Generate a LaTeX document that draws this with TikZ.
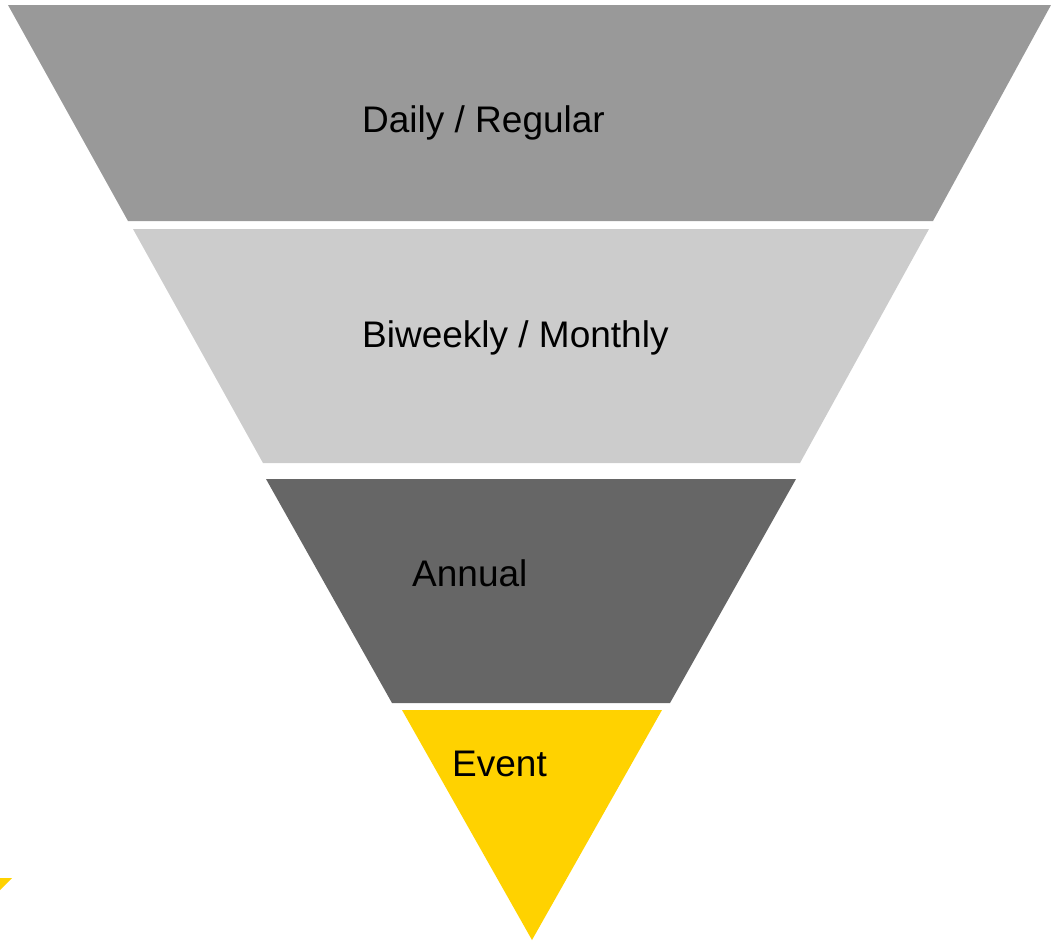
\documentclass[tikz,border=0pt]{standalone}
\usepackage{fontspec}
\setmainfont{Liberation Sans}
\definecolor{bandA}{HTML}{999999}
\definecolor{bandB}{HTML}{CCCCCC}
\definecolor{bandC}{HTML}{666666}
\definecolor{bandD}{HTML}{FFD200}
\begin{document}
\begin{tikzpicture}[x=1pt, y=-1pt, line join=round,
	lbl/.style={anchor=base west, inner sep=0pt, font=\fontsize{37}{44}\selectfont}]
			\useasboundingbox (0,0) rectangle (1051,943);
			% funnel bands
			\fill[bandA] (8,5)--(1051,5)--(933,221)--(128,221)--cycle;
			\fill[bandB] (133,229)--(929,229)--(800,463)--(263,463)--cycle;
			\fill[bandC] (266,479)--(796,479)--(670,703)--(392,703)--cycle;
			\fill[bandD] (402,710)--(662,710)--(532,940)--cycle;
			\fill[bandD] (0,878)--(12,878)--(0,890)--cycle;
			% labels
			\node[lbl] (daily) at (362,132) {Daily / Regular};
			\node[lbl] (biweekly) at (362,347) {Biweekly / Monthly};
			\node[lbl] (annual) at (412,586) {Annual};
			\node[lbl] (event) at (452,776) {Event};
	\end{tikzpicture}
\end{document}
